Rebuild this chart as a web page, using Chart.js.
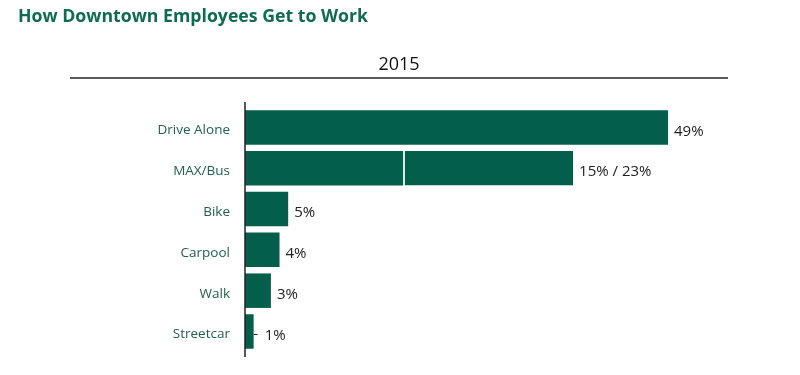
<!DOCTYPE html>
<html lang="en">
<head>
    <meta charset="UTF-8">
    <title>How Downtown Employees Get to Work</title>
    <script src="https://cdn.jsdelivr.net/npm/chart.js"></script>
    <style>
        html, body { margin: 0; padding: 0; background: #fff; }
        .chart-container { width: 800px; height: 375px; position: relative; }
    </style>
</head>
<body>
    <div class="chart-container">
        <canvas id="modeChart"></canvas>
    </div>
    <script>
        // data
        const modes = ['Drive Alone', 'MAX/Bus', 'Bike', 'Carpool', 'Walk', 'Streetcar'];
        const firstPart = [49, 18.3, 5, 4, 3, 1];   // whole bar, or MAX part of MAX/Bus
        const secondPart = [0, 19.7, 0, 0, 0, 0];   // Bus part of MAX/Bus
        const valueLabels = ['49%', '15% / 23%', '5%', '4%', '3%', '1%'];
        const chartTitle = 'How Downtown Employees Get to Work';
        const yearLabel = '2015';

        const green = '#035f4b';

        // title, year heading, rules and the value labels
        const decorations = {
            id: 'decorations',
            afterDraw(chart) {
                const ctx = chart.ctx;
                const x = chart.scales.x;
                const area = chart.chartArea;
                ctx.save();
                ctx.fillStyle = '#0f6b52';
                ctx.font = 'bold 17.7px "Open Sans"';
                ctx.textBaseline = 'alphabetic';
                ctx.textAlign = 'left';
                ctx.fillText(chartTitle, 18, 22);

                ctx.fillStyle = '#111';
                ctx.font = '18px "Open Sans"';
                ctx.textAlign = 'center';
                ctx.fillText(yearLabel, 399, 70);

                ctx.strokeStyle = '#222';
                ctx.lineWidth = 1.5;
                ctx.beginPath();
                ctx.moveTo(70, 78);
                ctx.lineTo(728, 78);
                ctx.stroke();

                // vertical axis line, a bit longer than the bars
                ctx.beginPath();
                ctx.moveTo(area.left, 102);
                ctx.lineTo(area.left, 357);
                ctx.stroke();

                const meta = chart.getDatasetMeta(0);
                ctx.font = '15px "Open Sans"';
                ctx.textAlign = 'left';
                ctx.textBaseline = 'middle';
                ctx.fillStyle = '#222';
                valueLabels.forEach((label, i) => {
                    const end = x.getPixelForValue(firstPart[i] + secondPart[i]);
                    const y = meta.data[i].y;
                    let gap = 6;
                    if (firstPart[i] + secondPart[i] < 2) {
                        // little leader tick next to the thin bar
                        ctx.lineWidth = 1;
                        ctx.beginPath();
                        ctx.moveTo(end, y + 3);
                        ctx.lineTo(end + 4, y + 3);
                        ctx.stroke();
                        gap = 11;
                    }
                    ctx.fillText(label, end + gap, y + 4);
                });
                ctx.restore();
            }
        };

        const ctx = document.getElementById('modeChart').getContext('2d');
        new Chart(ctx, {
            type: 'bar',
            data: {
                labels: modes,
                datasets: [{
                    data: firstPart,
                    backgroundColor: green,
                    categoryPercentage: 1,
                    barPercentage: 0.845
                }, {
                    data: secondPart,
                    backgroundColor: green,
                    borderColor: '#d6eee6',
                    borderWidth: { left: 2 },
                    borderSkipped: false,
                    categoryPercentage: 1,
                    barPercentage: 0.845
                }]
            },
            options: {
                indexAxis: 'y',
                responsive: true,
                maintainAspectRatio: false,
                animation: false,
                layout: { padding: { top: 107, bottom: 20, left: 0, right: 37 } },
                plugins: {
                    legend: { display: false },
                    tooltip: { enabled: false }
                },
                scales: {
                    x: {
                        display: false,
                        stacked: true,
                        min: 0,
                        max: 60
                    },
                    y: {
                        stacked: true,
                        afterFit(scale) { scale.width = 245; },
                        grid: { display: false, drawTicks: false },
                        border: { display: false },
                        ticks: {
                            padding: 15,
                            labelOffset: 3,
                            color: '#22604f',
                            font: { family: '"Open Sans"', size: 13.5 }
                        }
                    }
                }
            },
            plugins: [decorations]
        });
    </script>
</body>
</html>
